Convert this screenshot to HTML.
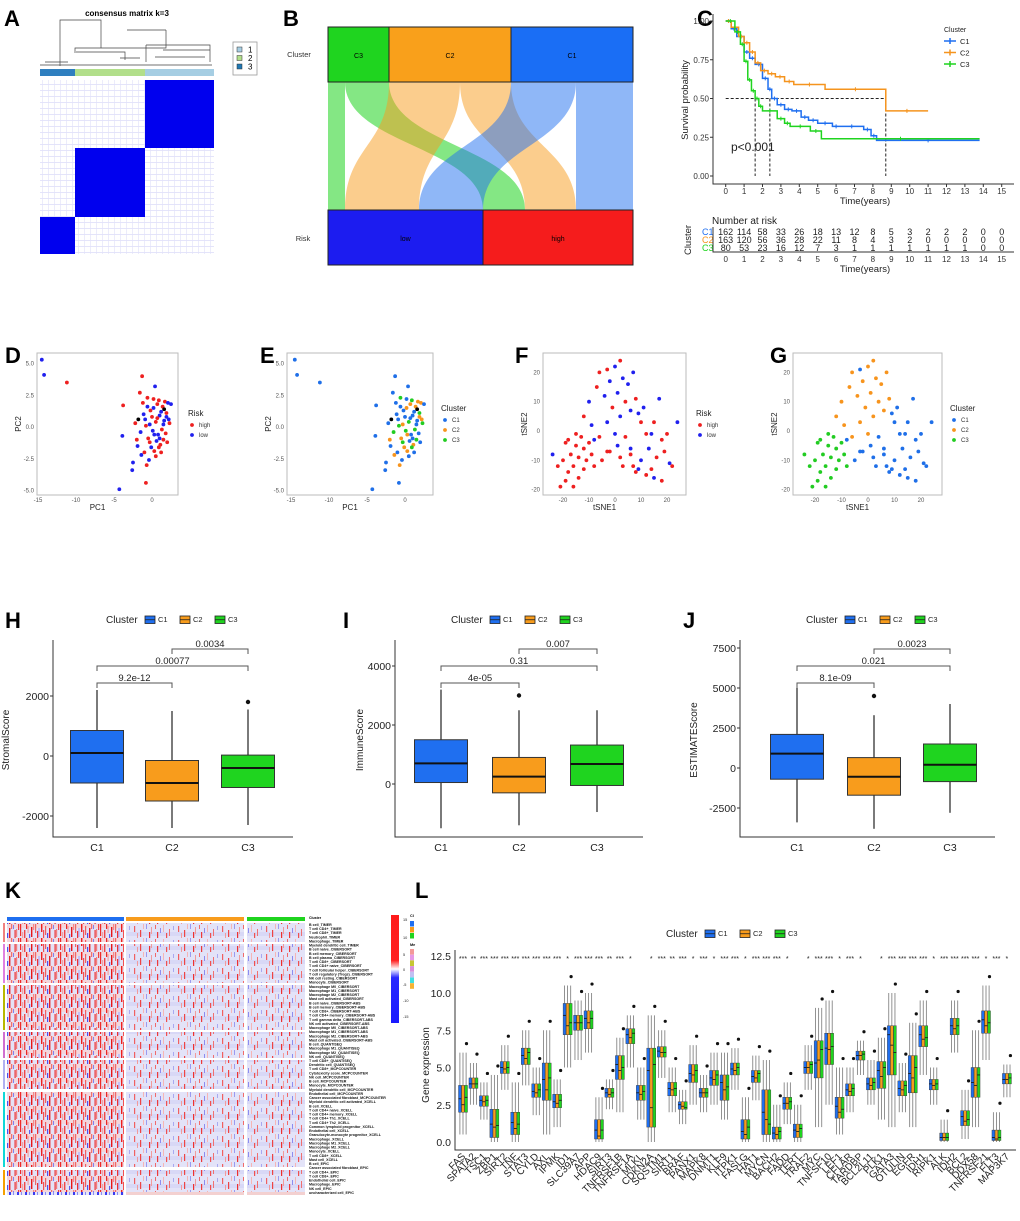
<!DOCTYPE html>
<html><head><meta charset="utf-8"><title>Figure</title>
<style>
html,body{margin:0;padding:0;background:#fff;}
svg{display:block;font-family:"Liberation Sans",Arial,sans-serif;}
</style></head>
<body>
<svg id="fig" width="1020" height="1221" viewBox="0 0 1020 1221" xmlns="http://www.w3.org/2000/svg">
<defs>
  <pattern id="hmDense" width="40" height="14" patternUnits="userSpaceOnUse">
    <rect width="40" height="14" fill="#e4e2f6"/>
    <rect x="0" y="0" width="40" height="4" fill="#f3d6dc"/>
    <rect x="1" y="0" width="1.4" height="8" fill="#ee2020"/>
    <rect x="3" y="6" width="1.2" height="8" fill="#f25050"/>
    <rect x="5" y="2" width="1.2" height="9" fill="#f06060"/>
    <rect x="7" y="9" width="1.2" height="5" fill="#5050f0"/>
    <rect x="9" y="4" width="1.4" height="10" fill="#e82020"/>
    <rect x="11" y="0" width="1.2" height="5" fill="#f07070"/>
    <rect x="13" y="1" width="1" height="4" fill="#8080f0"/>
    <rect x="14.5" y="6" width="1.2" height="8" fill="#ee3030"/>
    <rect x="16" y="5" width="1.2" height="8" fill="#f08080"/>
    <rect x="18" y="0" width="1.2" height="6" fill="#f04040"/>
    <rect x="20" y="0" width="1.2" height="12" fill="#ee2a2a"/>
    <rect x="22" y="8" width="1.2" height="6" fill="#f5a0a0"/>
    <rect x="24" y="6" width="1.4" height="8" fill="#f04848"/>
    <rect x="26" y="0" width="1.2" height="5" fill="#e82828"/>
    <rect x="27.5" y="2" width="1.2" height="7" fill="#f7a0a0"/>
    <rect x="29" y="10" width="1.2" height="4" fill="#6060f0"/>
    <rect x="31" y="3" width="1.4" height="10" fill="#e81818"/>
    <rect x="33" y="0" width="1.2" height="6" fill="#f48888"/>
    <rect x="35" y="0" width="1.2" height="9" fill="#f06868"/>
    <rect x="37" y="7" width="1.2" height="7" fill="#ee3030"/>
    <rect x="38.5" y="4" width="1" height="9" fill="#a0a0f5"/>
  </pattern>
  <pattern id="hmSparse" width="44" height="14" patternUnits="userSpaceOnUse">
    <rect width="44" height="14" fill="#e3e3f8"/>
    <rect x="0" y="8" width="44" height="4" fill="#d8d8f6"/>
    <rect x="2" y="2" width="1.2" height="6" fill="#f06060"/>
    <rect x="5" y="9" width="1" height="5" fill="#f29a9a"/>
    <rect x="8" y="6" width="1.2" height="7" fill="#ee4444"/>
    <rect x="11" y="0" width="1" height="5" fill="#f5b5b5"/>
    <rect x="14" y="0" width="1" height="5" fill="#9a9af0"/>
    <rect x="17" y="8" width="1.2" height="6" fill="#ee3030"/>
    <rect x="19" y="3" width="1" height="7" fill="#f29a9a"/>
    <rect x="23" y="1" width="1" height="4" fill="#f06a6a"/>
    <rect x="25" y="8" width="1.2" height="6" fill="#ee3a3a"/>
    <rect x="28" y="4" width="1" height="5" fill="#8c8cf0"/>
    <rect x="31" y="1" width="1" height="7" fill="#f5b5b5"/>
    <rect x="34" y="9" width="1.2" height="5" fill="#f05050"/>
    <rect x="37" y="5" width="1" height="7" fill="#f07070"/>
    <rect x="41" y="2" width="1" height="4" fill="#a8a8f0"/>
  </pattern>
  <pattern id="speck" width="6" height="6" patternUnits="userSpaceOnUse">
    <rect width="6" height="6" fill="#fff"/>
    <rect x="0" y="0" width="6" height="0.6" fill="#c8c8f6"/>
    <rect x="0" y="0" width="0.6" height="6" fill="#d8d8f8"/>
  </pattern>
  <pattern id="blueDash" width="8" height="3" patternUnits="userSpaceOnUse">
    <rect width="8" height="3" fill="#e6e6f8"/>
    <rect x="1" y="0" width="2" height="3" fill="#3a3af0"/>
    <rect x="5" y="0" width="1" height="3" fill="#8a8af5"/>
  </pattern>
</defs>
</svg>
<script>
// ---------- DATA ----------
const survC1T=[0,0.3,0.6,1,1.3,1.6,2,2.3,2.5,2.8,3.2,3.6,4.1,4.5,5,5.8,6.2,7.5,7.9,8.2,13.8];
const survC1S=[1,0.95,0.9,0.8,0.76,0.72,0.63,0.56,0.5,0.46,0.43,0.42,0.38,0.36,0.34,0.32,0.32,0.3,0.26,0.23,0.23];
const survC2T=[0,0.3,0.7,1,1.3,1.6,1.9,2.3,2.7,3.2,3.7,5.4,8.7,11];
const survC2S=[1,0.96,0.9,0.86,0.8,0.73,0.68,0.66,0.64,0.61,0.59,0.56,0.42,0.42];
const survC3T=[0,0.5,0.8,1,1.2,1.4,1.6,1.8,2,2.8,3.2,3.5,4.6,5.2,13.8];
const survC3S=[1,0.93,0.85,0.74,0.62,0.55,0.5,0.45,0.42,0.37,0.34,0.32,0.29,0.24,0.24];
const medians=[1.6,2.4,8.7];
const riskC1=[162,114,58,33,26,18,13,12,8,5,3,2,2,2,0,0];
const riskC2=[163,120,56,36,28,22,11,8,4,3,2,0,0,0,0,0];
const riskC3=[80,53,23,16,12,7,3,1,1,1,1,1,1,1,0,0];
const pcaX=[-14.5,-14.2,-11.2,-4.3,-0.8,-3.8,-3.9,-2.5,-2.6,-2.2,-1.9,-1.6,-1.5,-1.3,-1.1,-1.0,-0.9,-0.7,-0.6,-0.5,-0.4,-0.3,-0.2,-0.1,0.0,0.1,0.2,0.3,0.4,0.5,0.6,0.7,0.8,0.9,1.0,1.1,1.2,1.3,1.4,1.5,1.6,1.7,1.8,1.9,2.0,2.1,2.3,2.5,-1.4,0.5,-0.8,0.2,1.0,-2.0,1.5,-0.3,0.7,1.9,-1.2,0.3,1.2,-0.6,2.2,0.9,-1.8,1.6];
const pcaY=[5.3,4.1,3.5,-4.9,-4.4,1.7,-0.7,-2.8,-3.4,0.3,-1.5,2.7,-0.4,4.0,1.0,-2.0,0.6,-3.0,1.6,-0.9,-2.6,0.2,1.3,-1.6,0.8,-0.3,2.2,-1.9,3.2,0.4,-1.1,1.8,-0.6,2.1,0.9,-1.4,1.2,-0.2,1.6,-1.0,0.5,2.0,-0.5,1.1,-1.2,1.9,0.3,1.8,-2.2,-2.3,0.1,1.5,-0.9,-1.0,0.2,-1.2,0.7,0.8,1.9,-0.6,-2.0,2.3,0.6,-1.6,0.6,1.4];
const pcaRisk="0010110001010101010100101011010101010111011110100110010110101101";
const pcaClu ="1111111111113111121212121312131213121323121312312132121312121323";
const tsneX=[-21,-20,-19,-18,-18,-17,-16,-16,-15,-14,-14,-13,-12,-12,-11,-10,-9,-8,-15,-24,-22,-19,-12,-10,-9,-7,-6,-4,-3,-2,-1,0,1,2,3,4,5,6,7,8,-6,0,2,-3,9,-3,-8,-5,1,3,4,6,8,10,12,13,14,15,16,17,18,19,20,21,22,12,15,18,9,2,-2,6,10,14,24,7,11];
const tsneY=[-19,-10,-4,-14,-3,-8,-19,-12,-5,-9,-16,-2,-6,-13,-10,-4,-8,-12,-1,-8,-12,-17,5,10,2,15,20,12,3,17,8,22,13,5,18,10,16,7,20,11,-2,-1,24,21,6,-7,-3,-10,-5,-12,-2,-8,-14,-10,-1,-6,-13,3,-9,11,-3,-7,-1,-11,-12,-15,-16,-17,-13,-9,-7,-6,3,-1,3,-12,8];
const tsneRisk="11111111111111111110111001100010000100011011010101111010111011101101011010010";
const tsneClu ="33333333333333333333332222222222222222222221111111111111111111111111111111111";
const hStats=[[-2400,-900,100,850,2200],[-2400,-1500,-900,-150,1500],[-2300,-1050,-400,30,1550]];
const hOut=[null,null,1800];
const iStats=[[-1500,50,700,1500,3200],[-1400,-300,250,900,2500],[-950,-50,680,1320,2500]];
const iOut=[null,3000,null];
const jStats=[[-3400,-700,900,2100,5000],[-3800,-1700,-550,650,3300],[-2800,-850,200,1500,4000]];
const jOut=[null,4500,null];
const clusters=["C1","C2","C3"];
const genes=["FAS","SPATA2","TSC1","ZBP1","SIRT2","TNF","STAT3","CYLD","AXL","IPMK","ID1","SLC39A7","APP","HDAC9","SIRT3","TNFRSF1B","TNFRSF1A","MLKL","CDKN2A","SQSTM1","SIRT1","BRAF","PANX1","MAPK8","DNMT1","KLF9","ITPK1","FASLG","HAT1","MYCN","BACH2","FADD","TERT","TRAF2","MYC","TNFSF10","LEF1","CFLAR","TARDBP","BCL2L11","PLK1","GATA3","OTULIN","EGFR","IDH1","RIPK1","ALK","IDH2","BCL2","DDX58","TNFRSF21","FLT3","MAP3K7"];
const medC1=[2.9,3.9,2.8,1.2,5.0,1.3,5.8,3.4,4.2,2.7,8.5,8.0,8.3,0.8,3.3,5.2,7.2,3.3,4.8,6.1,3.6,2.5,4.6,3.3,4.3,4.0,4.9,0.7,4.4,2.0,0.6,2.6,0.8,5.0,5.3,6.3,2.4,3.5,5.8,3.9,4.8,7.2,3.6,4.6,7.2,3.9,0.3,7.8,1.7,4.0,8.2,0.3,4.2];
const medC2=[2.5,3.9,2.7,1.0,4.9,0.9,5.6,3.3,3.5,2.6,7.8,8.0,8.0,0.4,3.2,4.8,7.0,3.2,2.3,6.0,3.5,2.4,4.5,3.3,4.2,3.5,4.8,0.5,4.3,1.5,0.5,2.6,0.7,5.0,5.5,6.2,2.0,3.4,5.8,3.8,4.4,6.5,3.5,4.3,6.9,3.8,0.3,7.6,1.4,3.8,7.8,0.2,4.2];
const medC3=[3.0,3.9,2.8,1.1,5.0,1.2,6.0,3.5,4.3,2.8,8.0,8.0,8.3,0.8,3.3,5.0,7.3,3.4,5.2,6.0,3.6,2.3,4.8,3.3,4.5,3.7,5.0,1.0,4.6,1.2,0.7,2.7,0.9,5.2,6.2,6.4,2.2,3.6,5.9,4.0,5.0,6.0,3.8,5.0,7.0,3.9,0.3,7.8,1.5,4.5,8.0,0.3,4.3];
const q1=[2.0,3.6,2.4,0.3,4.6,0.5,5.2,3.0,2.8,2.3,7.2,7.5,7.6,0.2,3.0,4.2,6.6,2.8,1.0,5.7,3.1,2.2,4.0,3.0,3.8,2.8,4.5,0.2,4.0,0.5,0.2,2.2,0.3,4.6,4.3,5.2,1.6,3.1,5.5,3.5,3.6,4.5,3.1,3.3,6.4,3.5,0.1,7.2,1.1,3.0,7.3,0.1,3.9];
const q3=[3.8,4.3,3.1,2.2,5.4,2.0,6.3,3.9,5.3,3.2,9.3,8.5,8.8,1.5,3.6,5.8,7.6,3.8,6.3,6.4,4.0,2.7,5.2,3.6,4.8,4.5,5.3,1.5,4.8,3.5,1.0,3.0,1.2,5.4,6.8,7.3,3.0,3.9,6.1,4.3,5.4,7.8,4.1,5.8,7.8,4.2,0.6,8.3,2.1,5.0,8.8,0.8,4.6];
const wLo=[0.5,2.5,1.5,0,3.5,0,3.8,1.8,0.5,1.0,5.0,5.5,6.0,0,2.2,2.0,5.0,1.5,0,4.3,2.0,1.2,2.5,2.0,2.5,1.5,3.5,0,2.8,0,0,1.2,0,3.5,1.0,2.5,0.5,2.0,4.5,2.5,1.5,1.0,2.0,1.0,4.5,2.5,0,6.0,0.2,1.0,5.5,0,3.0];
const wHi=[6.0,5.3,4.0,4.5,6.5,4.0,7.5,5.0,7.5,4.2,10.5,9.5,10.0,3.0,4.2,7.0,8.5,5.0,8.5,7.5,5.0,3.5,6.5,4.5,6.0,6.0,6.3,3.0,5.8,5.5,2.5,4.0,2.5,6.5,9.0,9.5,5.0,5.0,6.8,5.5,7.0,10.0,5.3,8.0,9.5,5.0,1.5,9.5,3.5,7.5,10.5,2.0,5.2];
const sigMarks=["***","**","***","***","***","***","***","***","***","***","*","***","***","***","**","***","*","","*","***","**","***","*","***","*","***","***","*","***","***","***","*","","*","***","***","*","***","*","","*","***","***","***","***","*","***","***","***","***","*","***","*"];
const hmGroupY0=[923,944,985,1032,1060,1092,1170];
const hmGroupY1=[942,983,1030,1058,1089,1167,1195];
const hmGroupCol=["#f08080","#e080e0","#b8b800","#d070d0","#b0b0f0","#10d8d8","#f5a000"];
const hmLabels=["B cell_TIMER","T cell CD4+_TIMER","T cell CD8+_TIMER","Neutrophil_TIMER","Macrophage_TIMER","Myeloid dendritic cell_TIMER","B cell naive_CIBERSORT","B cell memory_CIBERSORT","B cell plasma_CIBERSORT","T cell CD8+_CIBERSORT","T cell CD4+ naive_CIBERSORT","T cell follicular helper_CIBERSORT","T cell regulatory (Tregs)_CIBERSORT","NK cell resting_CIBERSORT","Monocyte_CIBERSORT","Macrophage M0_CIBERSORT","Macrophage M1_CIBERSORT","Macrophage M2_CIBERSORT","Mast cell activated_CIBERSORT","B cell naive_CIBERSORT-ABS","B cell memory_CIBERSORT-ABS","T cell CD8+_CIBERSORT-ABS","T cell CD4+ memory_CIBERSORT-ABS","T cell gamma delta_CIBERSORT-ABS","NK cell activated_CIBERSORT-ABS","Macrophage M0_CIBERSORT-ABS","Macrophage M1_CIBERSORT-ABS","Macrophage M2_CIBERSORT-ABS","Mast cell activated_CIBERSORT-ABS","B cell_QUANTISEQ","Macrophage M1_QUANTISEQ","Macrophage M2_QUANTISEQ","NK cell_QUANTISEQ","T cell CD8+_QUANTISEQ","Dendritic cell_QUANTISEQ","T cell CD8+_MCPCOUNTER","Cytotoxicity score_MCPCOUNTER","NK cell_MCPCOUNTER","B cell_MCPCOUNTER","Monocyte_MCPCOUNTER","Myeloid dendritic cell_MCPCOUNTER","Endothelial cell_MCPCOUNTER","Cancer associated fibroblast_MCPCOUNTER","Myeloid dendritic cell activated_XCELL","B cell_XCELL","T cell CD4+ naive_XCELL","T cell CD4+ memory_XCELL","T cell CD4+ Th1_XCELL","T cell CD4+ Th2_XCELL","Common lymphoid progenitor_XCELL","Endothelial cell_XCELL","Granulocyte-monocyte progenitor_XCELL","Macrophage_XCELL","Macrophage M1_XCELL","Macrophage M2_XCELL","Monocyte_XCELL","T cell CD8+_XCELL","Mast cell_XCELL","B cell_EPIC","Cancer associated fibroblast_EPIC","T cell CD4+_EPIC","T cell CD8+_EPIC","Endothelial cell_EPIC","Macrophage_EPIC","NK cell_EPIC","uncharacterized cell_EPIC"];

// ---------- HELPERS ----------
const NS='http://www.w3.org/2000/svg';
const svg=document.getElementById('fig');
function mk(tag,attrs,parent){const e=document.createElementNS(NS,tag);for(const k in attrs)e.setAttribute(k,attrs[k]);(parent||svg).appendChild(e);return e;}
function tx(x,y,s,attrs,parent){const e=mk('text',Object.assign({x:x,y:y},attrs||{}),parent);e.textContent=s;return e;}
const COL={C1:"#1f6ff0",C2:"#f89c1c",C3:"#1fd41f"};
const cCols=[COL.C1,COL.C2,COL.C3];

const letters=[["A",4,26],["B",283,26],["C",697,26],["D",5,363],["E",260,363],["F",515,363],["G",770,363],["H",5,628],["I",343,628],["J",683,628],["K",5,898],["L",415,898]];
letters.forEach(l=>{const t=tx(l[1],l[2],l[0],{"font-size":22,"font-weight":"bold"});

});

// ---------- A ----------
(function(){
const g=mk('g',{});


let t=tx(127,16,"consensus matrix k=3",{"font-size":8,"font-weight":"bold","text-anchor":"middle"},g);


const d="M60,66 V20 H101 V48 M101,48 H75 V53 M101,48 H166 V30 M127,30 H166 M101,20 V40 M60,20 M166,30 V45 M146,45 V62 M146,45 H210 V62 M163,50 H210 M155,57 H205 M76,52 H125 V60 M120,58 H140 M45,62 H68 M40,65 H212";
const p=mk('path',{d:d,fill:"none",stroke:"#444","stroke-width":0.7},g);


const bars=[[40,75,"#2f7fbf"],[75,145,"#b2df8a"],[145,214,"#a6cee3"]];
bars.forEach((b,i)=>{const r=mk('rect',{x:b[0],y:69,width:b[1]-b[0],height:7,fill:b[2]},g);

});
const bg=mk('rect',{x:40,y:80,width:174,height:174,fill:"url(#speck)",opacity:0.8},g);


const blocks=[[145,80,69,68],[75,148,70,69],[40,217,35,37]];
blocks.forEach((b,i)=>{const r=mk('rect',{x:b[0],y:b[1],width:b[2],height:b[3],fill:"#0000ee"},g);

});
const lg=mk('rect',{x:233,y:42,width:24,height:33,fill:"#fff",stroke:"#999","stroke-width":0.8},g);


[["1","#a6cee3"],["2","#b2df8a"],["3","#1f78b4"]].forEach((e,i)=>{
 const r=mk('rect',{x:237,y:47+i*8.5,width:5,height:5,fill:e[1],stroke:"#333","stroke-width":0.5},g);
 
 
 const tt=tx(248,52.5+i*8.5,e[0],{"font-size":8},g);
 
 });
})();

// ---------- B (Sankey) ----------
(function(){
const g=mk('g',{});


const flows=[[328,345,328,345,COL.C3,0.55],[345,389,483,525,COL.C3,0.55],[389,460,345,419,COL.C2,0.5],[460,511,525,576,COL.C2,0.5],[511,576,419,483,COL.C1,0.5],[576,633,576,633,COL.C1,0.5]];
flows.forEach((f,i)=>{
 const d=`M${f[0]},82 C${f[0]},146 ${f[2]},146 ${f[2]},210 L${f[3]},210 C${f[3]},146 ${f[1]},146 ${f[1]},82 Z`;
 const p=mk('path',{d:d,fill:f[4],opacity:f[5]},g);
 
 });
const boxes=[[328,389,27,"C3",COL.C3],[389,511,27,"C2","#f9a01b"],[511,633,27,"C1","#1a6ef5"],[328,483,210,"low","#1c1cf0"],[483,633,210,"high","#f51c1c"]];
boxes.forEach(b=>{
 const r=mk('rect',{x:b[0],y:b[2],width:b[1]-b[0],height:55,fill:b[4],stroke:"#222","stroke-width":1},g);
 
 
 const t=tx((b[0]+b[1])/2,b[2]+31,b[3],{"font-size":7,"text-anchor":"middle"},g);
 
 });
let t=tx(299,57,"Cluster",{"font-size":7.5,"text-anchor":"middle",fill:"#333"},g);


t=tx(303,241,"Risk",{"font-size":7.5,"text-anchor":"middle",fill:"#333"},g);


})();

// ---------- C (KM) ----------
(function(){
const g=mk('g',{});


const X=t=>725.7+t*18.4, Y=s=>176-s*155;
let a=mk('path',{d:"M713,14 V184 H1014",fill:"none",stroke:"#333","stroke-width":1},g);


[0,0.25,0.5,0.75,1].forEach(v=>{
 const tt=tx(709,Y(v)+3,v.toFixed(2),{"font-size":8,"text-anchor":"end",fill:"#333"},g);
 
 
 const tk=mk('line',{x1:710,x2:713,y1:Y(v),y2:Y(v),stroke:"#333"},g);
 
 });
for(let i=0;i<=15;i++){
 const tt=tx(X(i),194,String(i),{"font-size":8,"text-anchor":"middle",fill:"#333"},g);
 
 
 const tk=mk('line',{x1:X(i),x2:X(i),y1:184,y2:187,stroke:"#333"},g);
 
 }
let t=tx(865,204,"Time(years)",{"font-size":9.5,"text-anchor":"middle",fill:"#222"},g);


t=tx(688,100,"Survival probability",{"font-size":9.5,"text-anchor":"middle",fill:"#222",transform:"rotate(-90 688 100)"},g);


let md="M"+X(0)+","+Y(0.5)+" H"+X(medians[2]);
medians.forEach(m=>{md+=" M"+X(m)+","+Y(0.5)+" V"+Y(0);});
const ml=mk('path',{d:md,fill:"none",stroke:"#222","stroke-width":1,"stroke-dasharray":"3,2"},g);


const series=[[survC1T,survC1S,COL.C1,"c1"],[survC2T,survC2S,"#f5941e","c2"],[survC3T,survC3S,COL.C3,"c3"]];
series.forEach(s=>{
 let d="M"+X(s[0][0])+","+Y(s[1][0]);
 for(let i=1;i<s[0].length;i++){d+=" H"+X(s[0][i])+" V"+Y(s[1][i]);}
 const p=mk('path',{d:d,fill:"none",stroke:s[2],"stroke-width":1.5},g);
 
 
 let cd="";
 for(let i=1;i<s[0].length;i++){const xm=(X(s[0][i-1])+X(s[0][i]))/2,yy=Y(s[1][i-1]);cd+=`M${xm-2},${yy} h4 M${xm},${yy-2} v4 `;}
 const c=mk('path',{d:cd,stroke:s[2],"stroke-width":1},g);
 
 });
t=tx(731,151,"p<0.001",{"font-size":12,fill:"#222"},g);


t=tx(944,32,"Cluster",{"font-size":7,fill:"#222"},g);


[["C1",COL.C1],["C2","#f5941e"],["C3",COL.C3]].forEach((e,i)=>{
 const y=41+i*11.5;
 const l=mk('path',{d:`M944,${y} h12 M950,${y-3} v6`,stroke:e[1],"stroke-width":1.5},g);
 
 
 const tt=tx(960,y+3,e[0],{"font-size":7.5,fill:"#222"},g);
 
 });
t=tx(712,224,"Number at risk",{"font-size":10,fill:"#222"},g);


const rows=[[riskC1,"C1",COL.C1],[riskC2,"C2","#f5941e"],[riskC3,"C3",COL.C3]];
rows.forEach((r,ri)=>{
 const y=235+ri*8;
 const lab=tx(702,y,r[1],{"font-size":9,fill:r[2]},g);
 
 
 r[0].forEach((v,i)=>{const tt=tx(X(i),y,String(v),{"font-size":9,"text-anchor":"middle",fill:"#222"},g);
 
 });});
a=mk('path',{d:"M713,227 V252 H1014",fill:"none",stroke:"#333","stroke-width":1},g);


for(let i=0;i<=15;i++){
 const tt=tx(X(i),262,String(i),{"font-size":8,"text-anchor":"middle",fill:"#333"},g);
 
 }
t=tx(865,272,"Time(years)",{"font-size":9.5,"text-anchor":"middle",fill:"#222"},g);


t=tx(691,240,"Cluster",{"font-size":9.5,"text-anchor":"middle",fill:"#222",transform:"rotate(-90 691 240)"},g);


})();

// ---------- D-G scatter ----------
function scatter(cfg){
 const g=mk('g',{});
 
 
 const fr=mk('rect',{x:cfg.x0,y:353,width:cfg.x1-cfg.x0,height:142,fill:"#fff",stroke:"#bbb","stroke-width":1},g);
 
 
 cfg.xt.forEach(v=>{const tt=tx(cfg.X(v),502,String(v),{"font-size":6,"text-anchor":"middle",fill:"#555"},g);
  
  });
 cfg.yt.forEach(v=>{const tt=tx(cfg.x0-3,cfg.Y(v)+2,cfg.fmt(v),{"font-size":6,"text-anchor":"end",fill:"#555"},g);
  
  });
 let t=tx((cfg.x0+cfg.x1)/2-10,510,cfg.xl,{"font-size":8,"text-anchor":"middle",fill:"#222"},g);
 
 
 t=tx(cfg.x0-16,424,cfg.yl,{"font-size":8,"text-anchor":"middle",fill:"#222",transform:`rotate(-90 ${cfg.x0-16} 424)`},g);
 
 
 cfg.xs.forEach((xv,i)=>{
  const c=mk('circle',{cx:cfg.X(xv),cy:cfg.Y(cfg.ys[i]),r:1.9,fill:cfg.colors[+cfg.lab[i]]},g);
  
  });
 t=tx(cfg.lx,cfg.ly,cfg.lt,{"font-size":8,fill:"#222"},g);
 
 
 cfg.lk.forEach((k,i)=>{
  const c=mk('circle',{cx:cfg.lx+4,cy:cfg.ly+9+i*10,r:1.9,fill:cfg.colors[k[1]]},g);
  
  
  const tt=tx(cfg.lx+11,cfg.ly+11+i*10,k[0],{"font-size":6,fill:"#333"},g);
  
  });
}
const riskCols={0:"#2020ee",1:"#ee2020"};
const cluCols={1:"#1f6fe8",2:"#f7941d",3:"#22cc22"};
scatter({name:"panel-d-pca-risk",x0:37,x1:178,X:v=>152+v*7.6,Y:v=>427-v*12.7,xt:[-15,-10,-5,0],yt:[5,2.5,0,-2.5,-5],fmt:v=>v.toFixed(1),xl:"PC1",yl:"PC2",xs:pcaX,ys:pcaY,lab:pcaRisk,colors:riskCols,lx:188,ly:416,lt:"Risk",lk:[["high",1],["low",0]]});
scatter({name:"panel-e-pca-cluster",x0:287,x1:433,X:v=>405+v*7.6,Y:v=>427-v*12.7,xt:[-15,-10,-5,0],yt:[5,2.5,0,-2.5,-5],fmt:v=>v.toFixed(1),xl:"PC1",yl:"PC2",xs:pcaX,ys:pcaY,lab:pcaClu,colors:cluCols,lx:441,ly:411,lt:"Cluster",lk:[["C1",1],["C2",2],["C3",3]]});
scatter({name:"panel-f-tsne-risk",x0:543,x1:686,X:v=>615+v*2.6,Y:v=>431-v*2.93,xt:[-20,-10,0,10,20],yt:[20,10,0,-10,-20],fmt:v=>String(v),xl:"tSNE1",yl:"tSNE2",xs:tsneX,ys:tsneY,lab:tsneRisk,colors:riskCols,lx:696,ly:416,lt:"Risk",lk:[["high",1],["low",0]]});
scatter({name:"panel-g-tsne-cluster",x0:793,x1:942,X:v=>868+v*2.65,Y:v=>431-v*2.93,xt:[-20,-10,0,10,20],yt:[20,10,0,-10,-20],fmt:v=>String(v),xl:"tSNE1",yl:"tSNE2",xs:tsneX,ys:tsneY,lab:tsneClu,colors:cluCols,lx:950,ly:411,lt:"Cluster",lk:[["C1",1],["C2",2],["C3",3]]});

// ---------- H/I/J box plots ----------
function legendCluster(g,x,y,fs,bw){
 let t=tx(x,y+4,"Cluster",{"font-size":fs,fill:"#222"},g);
 
 
 let cx=x+fs*3.5+4;
 clusters.forEach((c,i)=>{
  const r=mk('rect',{x:cx,y:y-3,width:bw,height:bw*0.75,fill:cCols[i],stroke:"#222","stroke-width":0.8},g);
  
  
  const l=mk('line',{x1:cx,x2:cx+bw,y1:y-3+bw*0.375,y2:y-3+bw*0.375,stroke:"#222","stroke-width":0.8},g);
  
  
  const tt=tx(cx+bw+3,y+3,c,{"font-size":fs*0.75,fill:"#222"},g);
  
  
  cx+=bw+fs*1.9+6;});
}
function boxPanel(cfg){
 const g=mk('g',{});
 
 
 const Y=v=>cfg.zero-v*cfg.k;
 const ax=mk('path',{d:`M${cfg.ax},640 V837 H${cfg.ax+cfg.w}`,fill:"none",stroke:"#333","stroke-width":1},g);
 
 
 cfg.ticks.forEach(v=>{
  const tt=tx(cfg.ax-4,Y(v)+4,String(v),{"font-size":10.5,"text-anchor":"end",fill:"#222"},g);
  
  
  const tk=mk('line',{x1:cfg.ax-3,x2:cfg.ax,y1:Y(v),y2:Y(v),stroke:"#333"},g);
  
  });
 const t=tx(cfg.ax-cfg.yo,740,cfg.yl,{"font-size":10,"text-anchor":"middle",fill:"#222",transform:`rotate(-90 ${cfg.ax-cfg.yo} 740)`},g);
 
 
 cfg.stats.forEach((s,i)=>{
  const cx=cfg.cx[i],hw=26.5;
  const w=mk('line',{x1:cx,x2:cx,y1:Y(s[0]),y2:Y(s[4]),stroke:"#222","stroke-width":1.2},g);
  
  
  const b=mk('rect',{x:cx-hw,y:Y(s[3]),width:2*hw,height:Y(s[1])-Y(s[3]),fill:cCols[i],stroke:"#333","stroke-width":1},g);
  
  
  const m=mk('line',{x1:cx-hw,x2:cx+hw,y1:Y(s[2]),y2:Y(s[2]),stroke:"#111","stroke-width":2},g);
  
  
  if(cfg.out[i]!==null){const o=mk('circle',{cx:cx,cy:Y(cfg.out[i]),r:2.2,fill:"#111"},g);
   
   }
  const xl=tx(cx,851,clusters[i],{"font-size":10.5,"text-anchor":"middle",fill:"#222"},g);
  
  });
 const br=[[0,1,683,cfg.p[0]],[0,2,666,cfg.p[1]],[1,2,649,cfg.p[2]]];
 br.forEach(b=>{
  const x1=cfg.cx[b[0]],x2=cfg.cx[b[1]];
  const p=mk('path',{d:`M${x1},${b[2]+5} V${b[2]} H${x2} V${b[2]+5}`,fill:"none",stroke:"#555","stroke-width":1},g);
  
  
  const tt=tx((x1+x2)/2,b[2]-2,b[3],{"font-size":9.5,"text-anchor":"middle",fill:"#222"},g);
  
  });
 legendCluster(g,cfg.lx,619,10,10);
}
boxPanel({name:"panel-h-stromal",ax:53,w:240,zero:756,k:0.03,ticks:[2000,0,-2000],cx:[97,172,248],stats:hStats,out:hOut,yl:"StromalScore",yo:44,p:["9.2e-12","0.00077","0.0034"],lx:106});
boxPanel({name:"panel-i-immune",ax:395,w:248,zero:784,k:0.0295,ticks:[4000,2000,0],cx:[441,519,597],stats:iStats,out:iOut,yl:"ImmuneScore",yo:32,p:["4e-05","0.31","0.007"],lx:451});
boxPanel({name:"panel-j-estimate",ax:740,w:255,zero:768,k:0.016,ticks:[7500,5000,2500,0,-2500],cx:[797,874,950],stats:jStats,out:jOut,yl:"ESTIMATEScore",yo:43,p:["8.1e-09","0.021","0.0023"],lx:806});

// ---------- K heatmap ----------
(function(){
const g=mk('g',{});


const cols=[[7,124,COL.C1,"hmDense"],[126,244,COL.C2,"hmSparse"],[247,305,COL.C3,"hmSparse"]];
cols.forEach((c,i)=>{
 const r=mk('rect',{x:c[0],y:917,width:c[1]-c[0],height:4,fill:c[2]},g);
 
 
 hmGroupY0.forEach((y0,j)=>{
  const h=mk('rect',{x:c[0],y:y0,width:c[1]-c[0],height:hmGroupY1[j]-y0,fill:"url(#"+c[3]+")"},g);
  
  });
 const bd=mk('rect',{x:c[0],y:1192,width:c[1]-c[0],height:3,fill:i==0?"url(#blueDash)":"#f3d0d0"},g);
 
 });
hmGroupY0.forEach((y0,j)=>{
 const r=mk('rect',{x:3,y:y0,width:2,height:hmGroupY1[j]-y0,fill:hmGroupCol[j]},g);
 
 });
let t=tx(309,919,"Cluster",{"font-size":3.5,"font-weight":"bold"},g);


const step=(1195-923)/hmLabels.length;
hmLabels.forEach((s,i)=>{const tt=tx(309,926+i*step,s,{"font-size":3.6,"font-weight":"bold",fill:"#111"},g);
 
 });
const grd=mk('linearGradient',{id:"cbar",x1:0,y1:0,x2:0,y2:1},svg.querySelector('defs'));
[[0,"#ff1a1a"],[0.42,"#ff2020"],[0.5,"#ffffff"],[0.58,"#2828ff"],[1,"#1a1aff"]].forEach(s=>mk('stop',{offset:s[0],"stop-color":s[1]},grd));
const cb=mk('rect',{x:391,y:915,width:8,height:108,fill:"url(#cbar)"},g);


[["15",921],["10",939],["5",956],["0",971],["-5",986],["-10",1002],["-15",1018]].forEach(l=>{
 const tt=tx(403,l[1],l[0],{"font-size":3.8,fill:"#222"},g);
 
 });
t=tx(410,917,"Cl",{"font-size":3.8,"font-weight":"bold"},g);


[[921,COL.C1],[927,COL.C2],[933,COL.C3]].forEach(s=>{const r=mk('rect',{x:410,y:s[0],width:4,height:5.5,fill:s[1]},g);
 
 });
t=tx(410,946,"Me",{"font-size":3.8,"font-weight":"bold"},g);


hmGroupCol.forEach((c,i)=>{const r=mk('rect',{x:410,y:949+i*5.7,width:4,height:5.6,fill:c,opacity:0.8},g);
 
 });
})();

// ---------- L gene boxplots ----------
(function(){
const g=mk('g',{});


const Y=v=>1142-v*14.9;
const GX=i=>463+i*10.46;
const ax=mk('path',{d:"M455,950 V1150 H1016",fill:"none",stroke:"#333","stroke-width":1},g);


[0,2.5,5,7.5,10,12.5].forEach(v=>{
 const tt=tx(451,Y(v)+4,v.toFixed(1),{"font-size":10.5,"text-anchor":"end",fill:"#222"},g);
 
 });
let t=tx(429,1065,"Gene expression",{"font-size":10,"text-anchor":"middle",fill:"#222",transform:"rotate(-90 429 1065)"},g);


legendCluster(g,666,933,10,10);
const meds=[medC1,medC2,medC3];
genes.forEach((gn,i)=>{
 const cx=GX(i);
 meds.forEach((m,k)=>{
  const x=cx+(k-1)*3.1;
  const lo=Math.min(wLo[i],m[i]),hi=Math.max(wHi[i],m[i]);
  const w=mk('line',{x1:x,x2:x,y1:Y(lo),y2:Y(hi),stroke:"#777","stroke-width":0.8},g);
  
  
  const bq1=Math.min(q1[i],m[i]),bq3=Math.max(q3[i],m[i]);
  const b=mk('rect',{x:x-1.4,y:Y(bq3),width:2.8,height:Math.max(1,Y(bq1)-Y(bq3)),fill:cCols[k],stroke:"#333","stroke-width":0.4},g);
  
  
  const ml=mk('line',{x1:x-1.4,x2:x+1.4,y1:Y(m[i]),y2:Y(m[i]),stroke:"#111","stroke-width":0.8},g);
  
  });
 const o=mk('circle',{cx:cx+3.5,cy:Y(Math.min(12,wHi[i]+0.6)),r:1.6,fill:"#111"},g);
 
 
 const s=tx(cx,961,sigMarks[i],{"font-size":7,"text-anchor":"middle",fill:"#222"},g);
 
 
 const lb=tx(cx+3,1157,gn,{"font-size":10,"text-anchor":"end",fill:"#222",transform:`rotate(-45 ${cx+3} 1157)`},g);
 
 });
})();
</script>
</body></html>
